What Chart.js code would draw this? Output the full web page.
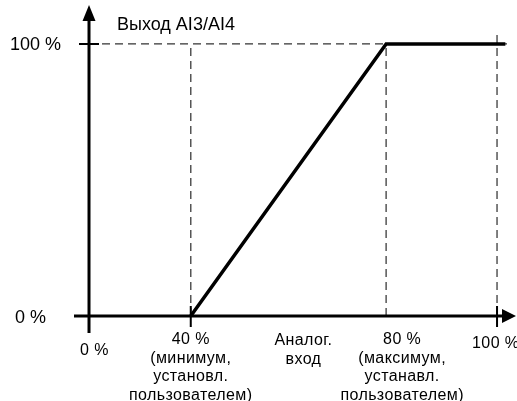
<!DOCTYPE html>
<html>
<head>
<meta charset="utf-8">
<script src="https://cdn.jsdelivr.net/npm/chart.js@4/dist/chart.umd.min.js"></script>
<style>
  html, body { margin: 0; padding: 0; background: #fff; }
  #wrap { width: 517px; height: 401px; }
</style>
</head>
<body>
<div id="wrap"><canvas id="chart" width="517" height="401"></canvas></div>
<script>
// analog input (%) -> output (%)
const inputPct = [40, 80, 101.5];
const outputPct = [0, 100, 100];

// marks on the input axis and their relative spacing in the drawing (not to scale)
const xStops = [0, 40, 80, 100];
const xStopSpacing = [0, 1, 2.92, 4.01];

const guideX = [40, 80, 100];
const guideTop = [100, 100, 105];

const yTitle = "Выход AI3/AI4";
const yTickLabels = ["0 %", "100 %"];
const xTickLabels = ["0 %", "40 %", "80 %", "100 %"];
const minNote = ["(минимум,", "установл.", "пользователем)"];
const maxNote = ["(максимум,", "устанавл.", "пользователем)"];
const xTitle = ["Аналог.", "вход"];

function toSpacing(v) {
  let i = 0;
  while (i < xStops.length - 2 && v > xStops[i + 1]) i++;
  const a = xStops[i], b = xStops[i + 1];
  const pa = xStopSpacing[i], pb = xStopSpacing[i + 1];
  return pa + (v - a) / (b - a) * (pb - pa);
}

class SchematicScale extends Chart.LinearScale {
  getPixelForValue(value) {
    const lo = toSpacing(this.min), hi = toSpacing(this.max);
    return this.left + (toSpacing(value) - lo) / (hi - lo) * this.width;
  }
  getValueForPixel(pixel) {
    const lo = toSpacing(this.min), hi = toSpacing(this.max);
    const s = lo + (pixel - this.left) / this.width * (hi - lo);
    let i = 0;
    while (i < xStops.length - 2 && s > xStopSpacing[i + 1]) i++;
    const pa = xStopSpacing[i], pb = xStopSpacing[i + 1];
    return xStops[i] + (s - pa) / (pb - pa) * (xStops[i + 1] - xStops[i]);
  }
}
SchematicScale.id = "schematic";
SchematicScale.defaults = Chart.LinearScale.defaults;
Chart.register(SchematicScale);

const guideDatasets = guideX.map((x, i) => ({
  data: [{ x: x, y: 0 }, { x: x, y: guideTop[i] }],
  showLine: true,
  borderColor: "#555",
  borderWidth: 1.5,
  borderDash: [8, 5],
  pointRadius: 0,
  order: 2,
}));

const FONT = "'Liberation Sans', Arial, sans-serif";

const axesPlugin = {
  id: "axes",
  afterDatasetsDraw(chart) {
    const ctx = chart.ctx;
    const xs = chart.scales.x, ys = chart.scales.y;
    const area = chart.chartArea;
    const x0 = xs.getPixelForValue(0);
    const y0 = ys.getPixelForValue(0);
    const y100 = ys.getPixelForValue(100);

    ctx.save();
    ctx.strokeStyle = "#000";
    ctx.fillStyle = "#000";
    ctx.lineWidth = 3;
    ctx.lineCap = "butt";

    // x axis with arrow
    ctx.beginPath();
    ctx.moveTo(area.left, y0);
    ctx.lineTo(area.right - 14, y0);
    ctx.stroke();
    ctx.beginPath();
    ctx.moveTo(area.right - 1, y0);
    ctx.lineTo(area.right - 15, y0 - 7);
    ctx.lineTo(area.right - 15, y0 + 7);
    ctx.closePath();
    ctx.fill();

    // y axis with arrow
    ctx.beginPath();
    ctx.moveTo(x0, area.bottom);
    ctx.lineTo(x0, area.top + 14);
    ctx.stroke();
    ctx.beginPath();
    ctx.moveTo(x0, area.top);
    ctx.lineTo(x0 - 6.5, area.top + 16);
    ctx.lineTo(x0 + 6.5, area.top + 16);
    ctx.closePath();
    ctx.fill();

    // tick marks
    ctx.lineWidth = 2;
    ctx.beginPath();
    ctx.moveTo(x0 - 10, y100);
    ctx.lineTo(x0 + 10, y100);
    [40, 100].forEach((v) => {
      const px = xs.getPixelForValue(v);
      ctx.moveTo(px, y0 - 10);
      ctx.lineTo(px, y0 + 11);
    });
    ctx.stroke();

    // texts
    ctx.textBaseline = "alphabetic";
    ctx.textAlign = "left";
    ctx.font = "18px " + FONT;
    ctx.fillText(yTitle, x0 + 28, 30);
    ctx.fillText(yTickLabels[1], 10, y100 + 6.5);
    ctx.fillText(yTickLabels[0], 15, y0 + 7);

    ctx.font = "16px " + FONT;
    ctx.letterSpacing = "0.4px";
    ctx.fillText(xTickLabels[0], x0 - 9, y0 + 39);
    ctx.fillText(xTickLabels[3], xs.getPixelForValue(100) - 25, y0 + 32);

    ctx.textAlign = "center";
    const lineH = 18.5;
    const px40 = xs.getPixelForValue(40);
    ctx.fillText(xTickLabels[1], px40, y0 + 28);
    minNote.forEach((t, i) => ctx.fillText(t, px40, y0 + 47 + i * lineH));

    const px80 = xs.getPixelForValue(80) + 16;
    ctx.fillText(xTickLabels[2], px80, y0 + 28);
    maxNote.forEach((t, i) => ctx.fillText(t, px80, y0 + 47 + i * lineH));

    const pxMid = (px40 + xs.getPixelForValue(80)) / 2 + 15;
    xTitle.forEach((t, i) => ctx.fillText(t, pxMid, y0 + 29 + i * 19));
    ctx.restore();
  },
};

new Chart(document.getElementById("chart"), {
  type: "scatter",
  data: {
    datasets: [
      {
        data: inputPct.map((x, i) => ({ x: x, y: outputPct[i] })),
        showLine: true,
        borderColor: "#000",
        borderWidth: 3.5,
        pointRadius: 0,
        order: 1,
      },
      {
        data: [{ x: 0, y: 100 }, { x: 101.8, y: 100 }],
        showLine: true,
        borderColor: "#333",
        borderWidth: 1.2,
        borderDash: [8, 5],
        pointRadius: 0,
        order: 3,
      },
      ...guideDatasets,
    ],
  },
  options: {
    responsive: false,
    animation: false,
    layout: { padding: { left: 74, right: 0, top: 5, bottom: 68 } },
    plugins: { legend: { display: false }, tooltip: { enabled: false } },
    scales: {
      x: { type: "schematic", min: -5.9, max: 103.6, display: false },
      y: { type: "linear", min: -6.25, max: 114.3, display: false },
    },
  },
  plugins: [axesPlugin],
});
</script>
</body>
</html>
